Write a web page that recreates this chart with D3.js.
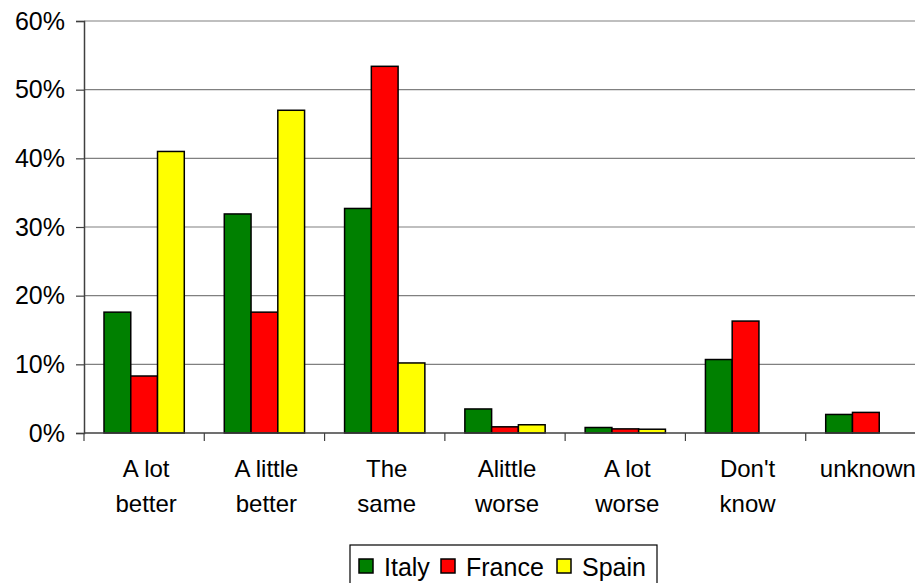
<!DOCTYPE html>
<html>
<head>
<meta charset="utf-8">
<script src="https://cdn.jsdelivr.net/npm/d3@7"></script>
<style>
  body { margin: 0; background: #fff; }
  svg { display: block; font-family: "Liberation Sans", Arial, sans-serif; }
</style>
</head>
<body>
<svg id="chart" width="915" height="583"></svg>
<script>
// data
var categories = [["A lot", "better"], ["A little", "better"], ["The", "same"], ["Alittle", "worse"], ["A lot", "worse"], ["Don't", "know"], ["unknown"]];
var seriesNames = ["Italy", "France", "Spain"];
var seriesColors = ["#008000", "#ff0000", "#ffff00"];
var italy  = [17.6, 31.9, 32.7, 3.5, 0.8, 10.7, 2.7];
var france = [8.3, 17.6, 53.4, 0.9, 0.6, 16.3, 3.0];
var spain  = [41.0, 47.0, 10.2, 1.2, 0.55, null, null];
var yTicks = [0, 10, 20, 30, 40, 50, 60];

var values = [italy, france, spain];
var svg = d3.select("#chart");

var plotLeft = 84, plotRight = 926, plotTop = 21, plotBottom = 433;

var x = d3.scaleBand().domain(d3.range(categories.length)).range([plotLeft, plotRight]);
var x1 = d3.scaleBand().domain(d3.range(seriesNames.length)).range([20, x.bandwidth() - 20]);
var y = d3.scaleLinear().domain([0, 60]).range([plotBottom, plotTop]);

// gridlines
svg.append("g").selectAll("line")
  .data(yTicks.filter(function(d) { return d > 0; }))
  .enter().append("line")
  .attr("x1", plotLeft).attr("x2", plotRight)
  .attr("y1", function(d) { return y(d); }).attr("y2", function(d) { return y(d); })
  .attr("stroke", "#808080").attr("stroke-width", 1.2);

// bars
values.forEach(function(vals, si) {
  svg.append("g").selectAll("rect")
    .data(vals.map(function(v, i) { return {i: i, v: v}; }).filter(function(d) { return d.v != null; }))
    .enter().append("rect")
    .attr("x", function(d) { return x(d.i) + x1(si); })
    .attr("width", x1.bandwidth())
    .attr("y", function(d) { return y(d.v); })
    .attr("height", function(d) { return y(0) - y(d.v); })
    .attr("fill", seriesColors[si])
    .attr("stroke", "#000").attr("stroke-width", 1.5);
});

// y axis
var yAxis = svg.append("g")
  .attr("transform", "translate(" + plotLeft + ",0)")
  .call(d3.axisLeft(y).tickValues(yTicks).tickSize(8).tickPadding(11).tickFormat(function(d) { return d + "%"; }));
yAxis.select(".domain").attr("stroke", "#404040").attr("stroke-width", 1.5);
yAxis.selectAll(".tick line").attr("stroke", "#404040").attr("stroke-width", 1.2);
yAxis.selectAll("text").attr("font-size", 25).attr("fill", "#000")
  .attr("font-family", "'Liberation Sans', Arial, sans-serif");

// x axis
var xAxis = svg.append("g").attr("transform", "translate(0," + plotBottom + ")");
xAxis.append("line").attr("x1", plotLeft).attr("x2", plotRight).attr("stroke", "#404040").attr("stroke-width", 1.5);
xAxis.selectAll(".xt")
  .data(d3.range(categories.length + 1))
  .enter().append("line")
  .attr("x1", function(d) { return plotLeft + d * x.bandwidth(); })
  .attr("x2", function(d) { return plotLeft + d * x.bandwidth(); })
  .attr("y1", 0).attr("y2", 8)
  .attr("stroke", "#404040").attr("stroke-width", 1.2);

var labels = svg.append("g").selectAll("text")
  .data(categories)
  .enter().append("text")
  .attr("text-anchor", "middle")
  .attr("font-size", 24)
  .attr("x", function(d, i) { return x(i) + x.bandwidth() / 2 + 2; })
  .attr("y", 477);
labels.selectAll("tspan")
  .data(function(d) { return d; })
  .enter().append("tspan")
  .attr("x", function() { return d3.select(this.parentNode).attr("x"); })
  .attr("dy", function(d, i) { return i == 0 ? 0 : 35; })
  .text(function(d) { return d; });

// legend
var legend = svg.append("g").attr("transform", "translate(350,545)");
legend.append("rect").attr("width", 307).attr("height", 45)
  .attr("fill", "#fff").attr("stroke", "#000").attr("stroke-width", 1.2);
var legendX = [9, 91, 207];
seriesNames.forEach(function(name, i) {
  var g = legend.append("g").attr("transform", "translate(" + legendX[i] + ",0)");
  g.append("rect").attr("x", 0).attr("y", 14).attr("width", 14).attr("height", 14)
    .attr("fill", seriesColors[i]).attr("stroke", "#000").attr("stroke-width", 1.5);
  g.append("text").attr("x", 25).attr("y", 31).attr("font-size", 25).text(name);
});
</script>
</body>
</html>
